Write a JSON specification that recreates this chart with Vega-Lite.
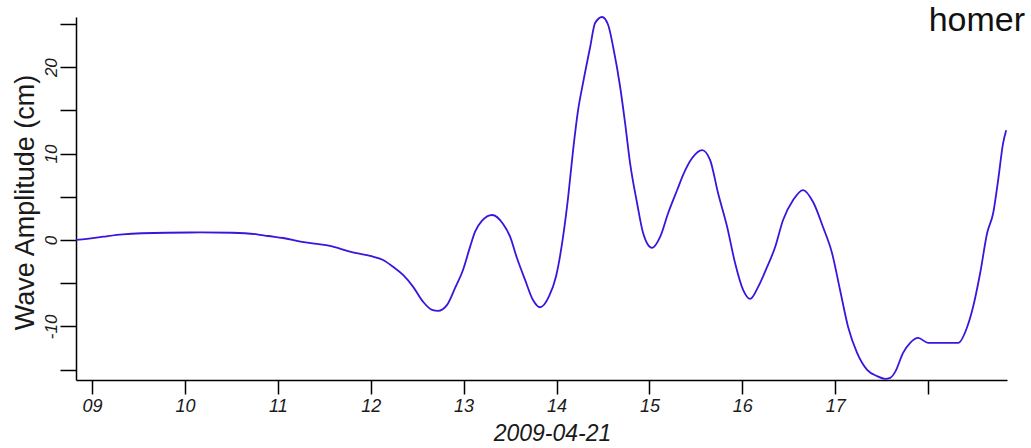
{
  "$schema": "https://vega.github.io/schema/vega-lite/v6.json",
  "width": 931,
  "height": 363,
  "autosize": {"type": "none"},
  "padding": {"left": 76, "top": 17, "right": 24, "bottom": 68},
  "background": "white",
  "title": {
    "text": "homer",
    "anchor": "end",
    "frame": "group",
    "orient": "top",
    "font": "Liberation Sans",
    "fontSize": 34,
    "fontWeight": "normal",
    "color": "#111111",
    "baseline": "alphabetic",
    "offset": -52,
    "dx": 18
  },
  "config": {
    "view": {"stroke": null},
    "axis": {
      "grid": false,
      "domainColor": "#000000",
      "domainWidth": 1.5,
      "tickColor": "#000000",
      "tickWidth": 1.5,
      "labelFont": "Liberation Sans",
      "labelFontStyle": "italic",
      "labelColor": "#1a1a1a",
      "titleFont": "Liberation Sans",
      "titleFontWeight": "normal",
      "titleColor": "#1a1a1a",
      "labelOverlap": false,
      "labelFlush": false
    }
  },
  "data": {
    "values": [
      {"t": "2009-04-21T08:49:40", "amp": 0.0},
      {"t": "2009-04-21T08:56:48", "amp": 0.12},
      {"t": "2009-04-21T09:07:06", "amp": 0.38},
      {"t": "2009-04-21T09:20:00", "amp": 0.66},
      {"t": "2009-04-21T09:48:24", "amp": 0.84},
      {"t": "2009-04-21T10:09:48", "amp": 0.87},
      {"t": "2009-04-21T10:30:24", "amp": 0.84},
      {"t": "2009-04-21T10:46:36", "amp": 0.66},
      {"t": "2009-04-21T10:53:42", "amp": 0.46},
      {"t": "2009-04-21T11:03:24", "amp": 0.23},
      {"t": "2009-04-21T11:15:36", "amp": -0.23},
      {"t": "2009-04-21T11:25:18", "amp": -0.46},
      {"t": "2009-04-21T11:33:42", "amp": -0.69},
      {"t": "2009-04-21T11:46:36", "amp": -1.35},
      {"t": "2009-04-21T11:59:36", "amp": -1.85},
      {"t": "2009-04-21T12:08:00", "amp": -2.31},
      {"t": "2009-04-21T12:14:24", "amp": -3.09},
      {"t": "2009-04-21T12:20:54", "amp": -4.05},
      {"t": "2009-04-21T12:27:18", "amp": -5.4},
      {"t": "2009-04-21T12:33:48", "amp": -7.14},
      {"t": "2009-04-21T12:39:36", "amp": -8.09},
      {"t": "2009-04-21T12:43:30", "amp": -8.21},
      {"t": "2009-04-21T12:49:18", "amp": -7.51},
      {"t": "2009-04-21T12:54:30", "amp": -5.55},
      {"t": "2009-04-21T12:59:36", "amp": -3.47},
      {"t": "2009-04-21T13:04:12", "amp": -0.77},
      {"t": "2009-04-21T13:07:24", "amp": 0.96},
      {"t": "2009-04-21T13:11:54", "amp": 2.23},
      {"t": "2009-04-21T13:18:24", "amp": 2.89},
      {"t": "2009-04-21T13:25:30", "amp": 1.85},
      {"t": "2009-04-21T13:30:00", "amp": 0.38},
      {"t": "2009-04-21T13:34:30", "amp": -2.12},
      {"t": "2009-04-21T13:39:42", "amp": -4.62},
      {"t": "2009-04-21T13:44:48", "amp": -6.94},
      {"t": "2009-04-21T13:49:24", "amp": -7.78},
      {"t": "2009-04-21T13:55:12", "amp": -6.5},
      {"t": "2009-04-21T13:59:42", "amp": -4.2},
      {"t": "2009-04-21T14:04:12", "amp": 0.35},
      {"t": "2009-04-21T14:07:30", "amp": 4.97},
      {"t": "2009-04-21T14:10:42", "amp": 10.4},
      {"t": "2009-04-21T14:13:54", "amp": 15.0},
      {"t": "2009-04-21T14:17:06", "amp": 18.15},
      {"t": "2009-04-21T14:21:42", "amp": 22.3},
      {"t": "2009-04-21T14:24:54", "amp": 25.1},
      {"t": "2009-04-21T14:29:24", "amp": 25.8},
      {"t": "2009-04-21T14:33:18", "amp": 24.9},
      {"t": "2009-04-21T14:36:36", "amp": 22.3},
      {"t": "2009-04-21T14:41:06", "amp": 17.7},
      {"t": "2009-04-21T14:44:18", "amp": 13.5},
      {"t": "2009-04-21T14:47:30", "amp": 8.9},
      {"t": "2009-04-21T14:52:00", "amp": 4.28},
      {"t": "2009-04-21T14:55:54", "amp": 0.81},
      {"t": "2009-04-21T15:01:42", "amp": -0.92},
      {"t": "2009-04-21T15:06:54", "amp": 0.35},
      {"t": "2009-04-21T15:12:06", "amp": 3.12},
      {"t": "2009-04-21T15:17:54", "amp": 5.78},
      {"t": "2009-04-21T15:21:42", "amp": 7.51},
      {"t": "2009-04-21T15:27:36", "amp": 9.48},
      {"t": "2009-04-21T15:34:00", "amp": 10.4},
      {"t": "2009-04-21T15:39:12", "amp": 9.25},
      {"t": "2009-04-21T15:44:18", "amp": 5.43},
      {"t": "2009-04-21T15:50:12", "amp": 1.5},
      {"t": "2009-04-21T15:55:18", "amp": -2.66},
      {"t": "2009-04-21T16:00:30", "amp": -5.78},
      {"t": "2009-04-21T16:05:00", "amp": -6.82},
      {"t": "2009-04-21T16:10:12", "amp": -5.43},
      {"t": "2009-04-21T16:16:00", "amp": -3.12},
      {"t": "2009-04-21T16:21:12", "amp": -0.81},
      {"t": "2009-04-21T16:26:18", "amp": 2.31},
      {"t": "2009-04-21T16:32:48", "amp": 4.62},
      {"t": "2009-04-21T16:39:12", "amp": 5.78},
      {"t": "2009-04-21T16:45:42", "amp": 4.39},
      {"t": "2009-04-21T16:52:06", "amp": 1.5},
      {"t": "2009-04-21T16:57:54", "amp": -1.5},
      {"t": "2009-04-21T17:03:06", "amp": -5.78},
      {"t": "2009-04-21T17:08:18", "amp": -10.06},
      {"t": "2009-04-21T17:14:06", "amp": -13.06},
      {"t": "2009-04-21T17:20:36", "amp": -15.03},
      {"t": "2009-04-21T17:27:00", "amp": -15.75},
      {"t": "2009-04-21T17:32:12", "amp": -16.07},
      {"t": "2009-04-21T17:35:30", "amp": -15.95},
      {"t": "2009-04-21T17:38:42", "amp": -15.26},
      {"t": "2009-04-21T17:43:48", "amp": -13.06},
      {"t": "2009-04-21T17:48:24", "amp": -11.9},
      {"t": "2009-04-21T17:53:30", "amp": -11.33},
      {"t": "2009-04-21T18:00:00", "amp": -11.9},
      {"t": "2009-04-21T18:19:24", "amp": -11.9},
      {"t": "2009-04-21T18:25:12", "amp": -10.06},
      {"t": "2009-04-21T18:29:00", "amp": -7.75},
      {"t": "2009-04-21T18:33:36", "amp": -3.82},
      {"t": "2009-04-21T18:38:06", "amp": 0.81},
      {"t": "2009-04-21T18:42:00", "amp": 3.12},
      {"t": "2009-04-21T18:45:12", "amp": 6.94},
      {"t": "2009-04-21T18:48:24", "amp": 11.2},
      {"t": "2009-04-21T18:50:24", "amp": 12.7}
    ]
  },
  "mark": {"type": "line", "color": "#3c14dc", "strokeWidth": 1.8, "interpolate": "monotone", "clip": false},
  "encoding": {
    "x": {
      "field": "t",
      "type": "temporal",
      "scale": {
        "domain": [
          {"year": 2009, "month": 4, "date": 21, "hours": 8, "minutes": 49, "seconds": 40},
          {"year": 2009, "month": 4, "date": 21, "hours": 18, "minutes": 50, "seconds": 55}
        ],
        "nice": false
      },
      "axis": {
        "values": [
          {"year": 2009, "month": 4, "date": 21, "hours": 9},
          {"year": 2009, "month": 4, "date": 21, "hours": 10},
          {"year": 2009, "month": 4, "date": 21, "hours": 11},
          {"year": 2009, "month": 4, "date": 21, "hours": 12},
          {"year": 2009, "month": 4, "date": 21, "hours": 13},
          {"year": 2009, "month": 4, "date": 21, "hours": 14},
          {"year": 2009, "month": 4, "date": 21, "hours": 15},
          {"year": 2009, "month": 4, "date": 21, "hours": 16},
          {"year": 2009, "month": 4, "date": 21, "hours": 17},
          {"year": 2009, "month": 4, "date": 21, "hours": 18}
        ],
        "format": "%H",
        "labelExpr": "hours(datum.value) == 18 ? '' : datum.label",
        "tickSize": 14,
        "labelFontSize": 18,
        "labelPadding": 3,
        "labelBaseline": "top",
        "labelAlign": "center",
        "title": "2009-04-21",
        "titleFontSize": 23,
        "titleFontStyle": "italic",
        "titleX": 476,
        "titleY": 60,
        "titleAlign": "center",
        "titleBaseline": "alphabetic"
      }
    },
    "y": {
      "field": "amp",
      "type": "quantitative",
      "scale": {"domain": [-16.2, 25.8], "nice": false, "zero": false},
      "axis": {
        "values": [-15, -10, -5, 0, 5, 10, 15, 20, 25],
        "labelExpr": "datum.value % 10 == 0 ? toString(datum.value) : ''",
        "tickSize": 16,
        "labelAngle": -90,
        "labelAlign": "center",
        "labelBaseline": "middle",
        "labelPadding": 9,
        "labelFontSize": 17,
        "title": "Wave Amplitude (cm)",
        "titleFontSize": 27,
        "titleAngle": -90,
        "titleX": -43,
        "titleY": 185,
        "titleAlign": "center",
        "titleBaseline": "alphabetic"
      }
    }
  }
}
